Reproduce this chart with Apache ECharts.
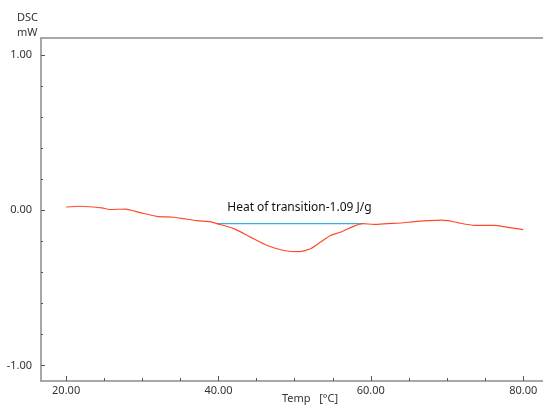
<!DOCTYPE html>
<html>
<head>
<meta charset="utf-8">
<title>DSC</title>
<script src="https://cdn.jsdelivr.net/npm/echarts@6/dist/echarts.min.js"></script>
<style>
  html, body { margin: 0; padding: 0; background: #fff; }
  #chart { width: 543px; height: 405px; }
</style>
</head>
<body>
<div id="chart"></div>
<script>
  // DSC curve
  var temp = [20.0, 21.8, 23.6, 24.7, 25.8, 27.8, 28.4, 30.2, 31.9, 34.1, 35.4, 37.2, 38.9, 39.8,
              42.0, 44.2, 46.4, 48.6, 50.6, 52.1, 53.4, 54.7, 56.1, 57.8, 58.9, 60.4, 62.2, 63.9,
              65.7, 67.5, 69.2, 70.1, 71.4, 73.6, 76.2, 78.0, 80.0];
  var dsc = [0.021, 0.026, 0.021, 0.015, 0.005, 0.008, 0.002, -0.021, -0.039, -0.045, -0.054, -0.067, -0.073, -0.086,
             -0.118, -0.173, -0.227, -0.259, -0.267, -0.248, -0.205, -0.162, -0.140, -0.102, -0.086, -0.091, -0.086, -0.082,
             -0.073, -0.067, -0.063, -0.067, -0.080, -0.097, -0.097, -0.110, -0.125];
  // baseline of the peak
  var baseTemp = [39.8, 58.9];
  var baseDsc = [-0.086, -0.086];

  var xLabelValues = [20, 40, 60, 80];
  var xTickValues = [20, 25, 30, 35, 40, 45, 50, 55, 60, 65, 70, 75, 80];
  var yLabelValues = [-1, 0, 1];
  var yTickValues = [-1, -0.8, -0.6, -0.4, -0.2, 0, 0.2, 0.4, 0.6, 0.8, 1];

  var heatText = 'Heat of transition-1.09 J/g';
  var heatPos = [50.6, 0.0];

  var font = '"Noto Sans", sans-serif';
  var axisGray = '#8c8c8c';

  var curve = temp.map(function (t, i) { return [t, dsc[i]]; });
  var base = baseTemp.map(function (t, i) { return [t, baseDsc[i]]; });

  var chart = echarts.init(document.getElementById('chart'));

  function xAxisBase(extra) {
    return Object.assign({
      type: 'value',
      min: 16.7,
      max: 82.6,
      position: 'bottom',
      splitLine: { show: false },
      axisLine: { show: false, onZero: false },
      axisLabel: { show: false },
      axisTick: { show: false }
    }, extra);
  }

  function yAxisBase(extra) {
    return Object.assign({
      type: 'value',
      min: -1.1,
      max: 1.11,
      position: 'left',
      splitLine: { show: false },
      axisLine: { show: false, onZero: false },
      axisLabel: { show: false },
      axisTick: { show: false }
    }, extra);
  }

  chart.setOption({
    animation: false,
    textStyle: { fontFamily: font },
    grid: { left: 41, right: 0, top: 38, bottom: 24, outerBoundsMode: 'none' },
    xAxis: [
      xAxisBase({
        axisLine: { show: true, onZero: false, lineStyle: { color: axisGray, width: 1.5 } },
        axisTick: { show: true, inside: true, length: 3, customValues: xTickValues, lineStyle: { color: '#555' } },
        axisLabel: {
          show: true, margin: 4, color: '#333', fontSize: 11, fontFamily: font,
          customValues: xLabelValues,
          formatter: function (v) { return v.toFixed(2); }
        }
      }),
      xAxisBase({
        axisTick: { show: true, inside: true, length: 5, customValues: xLabelValues, lineStyle: { color: '#555' } }
      }),
      xAxisBase({
        position: 'top',
        axisLine: { show: true, onZero: false, lineStyle: { color: axisGray, width: 1.5 } }
      })
    ],
    yAxis: [
      yAxisBase({
        axisLine: { show: true, onZero: false, lineStyle: { color: axisGray, width: 1.5 } },
        axisTick: { show: true, inside: true, length: 2, customValues: yTickValues, lineStyle: { color: '#555' } },
        axisLabel: {
          show: true, margin: 9, color: '#333', fontSize: 11, fontFamily: font,
          customValues: yLabelValues,
          formatter: function (v) { return v.toFixed(2); }
        }
      }),
      yAxisBase({
        axisTick: { show: true, inside: true, length: 4, customValues: yLabelValues, lineStyle: { color: '#555' } }
      })
    ],
    series: [
      {
        type: 'line',
        data: curve,
        smooth: 0.2,
        symbol: 'none',
        lineStyle: { color: '#ff4a2a', width: 1.2 },
        z: 3
      },
      {
        type: 'line',
        data: base,
        symbol: 'none',
        lineStyle: { color: '#3aaee0', width: 1.2 },
        z: 2
      }
    ]
  });

  var p = chart.convertToPixel({ xAxisIndex: 0, yAxisIndex: 0 }, heatPos);
  chart.setOption({
    graphic: [
      {
        type: 'text', left: p[0] - 72, top: p[1] - 9,
        style: { text: heatText, fill: '#111', font: '12px ' + font }
      },
      {
        type: 'text', right: 505, top: 10,
        style: { text: 'DSC\nmW', fill: '#333', font: '11px ' + font, align: 'right', lineHeight: 15 }
      },
      {
        type: 'text', left: 282, top: 393,
        style: { text: 'Temp   [°C]', fill: '#333', font: '11px ' + font }
      }
    ]
  });
</script>
</body>
</html>
